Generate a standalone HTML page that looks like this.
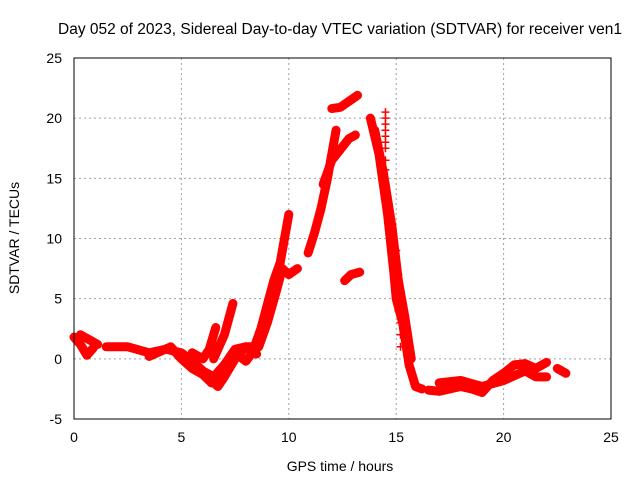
<!DOCTYPE html>
<html><head><meta charset="utf-8"><style>
body{margin:0;background:#fff}
svg{display:block;font-family:"Liberation Sans",sans-serif}
</style></head><body>
<svg id="chart" width="640" height="480" viewBox="0 0 640 480">
<text x="340" y="34" font-size="15.5" text-anchor="middle">Day 052 of 2023, Sidereal Day-to-day VTEC variation (SDTVAR) for receiver ven1</text>
<g id="grid"></g>
<g id="series"></g>
<rect x="74" y="58" width="537" height="361" fill="none" stroke="#000" stroke-width="1"/>
<g id="ticks"></g>
<text x="340" y="471" font-size="14" text-anchor="middle">GPS time / hours</text>
<text transform="translate(19,238) rotate(-90)" font-size="14" text-anchor="middle">SDTVAR / TECUs</text>
</svg>
<script>
const xTicks=[0,5,10,15,20,25];
const yTicks=[-5,0,5,10,15,20,25];
const tA_h=[0,0.3,0.6,0.9];const tA_v=[1.8,1.2,0.3,0.9];
const tB_h=[0.3,0.8,1.1];const tB_v=[2.0,1.5,1.2];
const tC_h=[1.5,2.5,3.5,4.3,5.0,5.5,6.0,6.5,7.0,7.5,8.0,8.5];const tC_v=[1.0,1.0,0.5,0.8,0.5,-0.2,-1.0,-1.5,-0.5,0.8,1.0,0.4];
const tD_h=[3.5,4.5,5.0,5.5,6.0,6.4];const tD_v=[0.2,1.0,0,-0.8,-1.3,-2.0];
const tE_h=[4.8,5.5,6.0,6.7,7.0,7.5,8.0,8.3];const tE_v=[0.5,-0.5,-1.2,-2.3,-1.5,0,1.0,1.0];
const tF_h=[5.5,6.0,6.3,6.5,6.6];const tF_v=[0.5,0,0.8,2.0,2.6];
const tG_h=[6.5,7.0,7.4];const tG_v=[0,2.0,4.6];
const tH_h=[7.5,8.0,8.3,8.7,9.0,9.3,9.6,10.0];const tH_v=[0.5,-0.2,0.5,2.5,4.5,6.5,8.0,12.0];
const tI_h=[8.6,9.0,9.4,9.7,10.0,10.4];const tI_v=[1.0,3.0,5.5,7.5,7.0,7.5];
const tJ_h=[10.9,11.2,11.5,11.8,12.2];const tJ_v=[8.8,10.5,12.5,15.0,19.0];
const tK_h=[11.6,12.0,12.4,12.8,13.1];const tK_v=[14.5,16.5,17.4,18.3,18.6];
const tL_h=[12.0,12.4,12.8,13.2];const tL_v=[20.8,20.9,21.4,21.9];
const tM_h=[12.6,12.9,13.3];const tM_v=[6.5,7.0,7.2];
const tN_h=[13.8,14.2,14.6,14.9,15.0,15.3,15.6,15.9,16.2];const tN_v=[20.0,17.0,12.0,7.0,5.0,3.0,-0.5,-2.3,-2.5];
const tN2_h=[14.0,14.4,14.8,15.1,15.4,15.7];const tN2_v=[19.0,15.5,11.0,6.5,3.5,0.0];
const tO_h=[14.5,14.5,14.5,14.5,14.5,14.5,14.5,14.5,14.5];const tO_v=[20.5,20.0,19.5,19.0,18.5,18.0,17.5,16.5,15.7];
const tP_h=[15.0,15.0,15.1,15.1,15.1,15.1,15.2,15.2,15.2];const tP_v=[9.0,8.0,7.0,6.0,5.0,4.0,3.0,2.0,1.0];
const tQ_h=[16.5,17.0,18.0,18.5,19.0,19.5,20.0,20.5,21.0,21.5,22.0];const tQ_v=[-2.6,-2.7,-2.3,-2.5,-2.8,-1.8,-1.2,-0.5,-0.4,-0.8,-0.3];
const tR_h=[17.0,18.0,19.0,20.0,21.0,21.5,22.0];const tR_v=[-2.0,-1.8,-2.3,-1.8,-1.0,-1.5,-1.5];
const tS_h=[22.5,22.9];const tS_v=[-0.8,-1.2];
const tracks=[[tA_h,tA_v],[tB_h,tB_v],[tC_h,tC_v],[tD_h,tD_v],[tE_h,tE_v],[tF_h,tF_v],[tG_h,tG_v],[tH_h,tH_v],[tI_h,tI_v],[tJ_h,tJ_v],[tK_h,tK_v],[tL_h,tL_v],[tM_h,tM_v],[tN_h,tN_v],[tN2_h,tN2_v],[tQ_h,tQ_v],[tR_h,tR_v],[tS_h,tS_v]];
const sparse=[[tO_h,tO_v],[tP_h,tP_v]];
const X=h=>74+h*(537/25);
const Y=v=>419-(v+5)*(361/30);
const NS="http://www.w3.org/2000/svg";
const grid=document.getElementById('grid'),ticks=document.getElementById('ticks'),ser=document.getElementById('series');
function mk(t,a,p){const e=document.createElementNS(NS,t);for(const k in a)e.setAttribute(k,a[k]);p.appendChild(e);return e;}
xTicks.forEach(t=>{const x=X(t);
 if(t>0&&t<25){const g=mk('line',{x1:x,x2:x,y1:58,y2:419,stroke:'#a0a0a0','stroke-dasharray':'2,3'},grid);
 
 }
 const l=mk('text',{x:x,y:442,'font-size':14,'text-anchor':'middle'},ticks);l.textContent=t;
 
 });
yTicks.forEach(t=>{const y=Y(t);
 if(t>-5&&t<25){const g=mk('line',{x1:74,x2:611,y1:y,y2:y,stroke:'#a0a0a0','stroke-dasharray':'2,3'},grid);
 
 }
 const l=mk('text',{x:62,y:y+5,'font-size':14,'text-anchor':'end'},ticks);l.textContent=t;
 
 });
function plus(h,v){const x=X(h),y=Y(v);
 const p=mk('path',{d:`M${x-4},${y}H${x+4}M${x},${y-4}V${y+4}`,stroke:'#f00','stroke-width':1.5},ser);
 
 }
tracks.forEach(([hs,vs])=>{
 const pl=mk('polyline',{points:hs.map((h,i)=>X(h)+','+Y(vs[i])).join(' '),fill:'none',stroke:'#f00','stroke-width':9,'stroke-linejoin':'round','stroke-linecap':'round'},ser);
 
 
 hs.forEach((h,i)=>plus(h,vs[i]));});
sparse.forEach(([hs,vs])=>hs.forEach((h,i)=>plus(h,vs[i])));
</script>
</body></html>
